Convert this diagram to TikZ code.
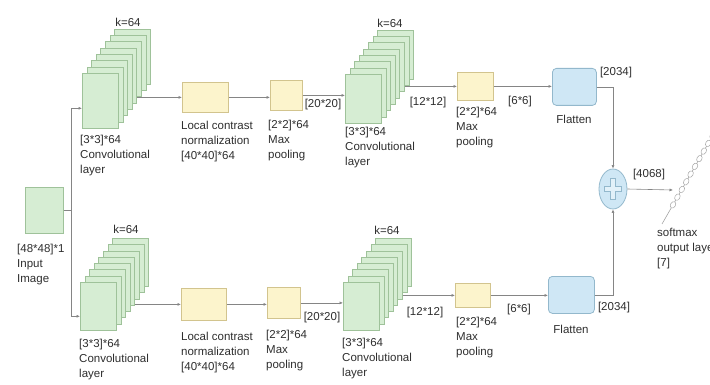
\documentclass[tikz,border=0pt]{standalone}
\usepackage{fontspec}
\setmainfont{Liberation Sans}
\usetikzlibrary{arrows.meta,shapes.geometric,calc}
\definecolor{gfill}{HTML}{D6EDD3}
\definecolor{gdraw}{HTML}{9FC29A}
\definecolor{yfill}{HTML}{FCF4CC}
\definecolor{ydraw}{HTML}{D2C48E}
\definecolor{bfill}{HTML}{CFE7F5}
\definecolor{bdraw}{HTML}{93B8CC}
\definecolor{lncol}{HTML}{858585}
\definecolor{txt}{HTML}{2E2E2E}
\newcommand\mystack[4]{%
  \foreach \i in {7,6,...,0}{%
    \node[layer, minimum height=#4pt] (#1l\i) at ({#2+4.6*\i},{#3-6.3*\i}) {};
  }%
}
\begin{document}
\begin{tikzpicture}[x=1pt,y=-1pt,
  layer/.style={draw=gdraw, fill=gfill, minimum width=36pt, anchor=north west, inner sep=0pt, line width=0.6pt},
  inbox/.style={draw=gdraw, fill=gfill, anchor=north west, inner sep=0pt, line width=0.6pt},
  ybox/.style={draw=ydraw, fill=yfill, anchor=north west, inner sep=0pt, line width=0.8pt},
  fbox/.style={draw=bdraw, fill=bfill, anchor=north west, inner sep=0pt, line width=0.8pt, rounded corners=4pt},
  lbl/.style={font=\fontsize{11.5}{15}\selectfont, text=txt, align=left, anchor=north west, inner sep=0pt},
  slbl/.style={font=\fontsize{11.5}{15}\selectfont, text=txt, anchor=center, inner sep=0pt},
  conn/.style={draw=lncol, line width=0.6pt, -{Latex[length=3.5pt,width=3pt]}},
  plain/.style={draw=lncol, line width=0.6pt}
]
\useasboundingbox (0,0) rectangle (710,385);

% input
\node[inbox, minimum width=38pt, minimum height=46pt] (in) at (25,187) {};
\node[lbl, text width=60pt] (inl) at (17,244) {[48*48]*1\\Input\\Image};

% ---------- top branch ----------
\mystack{a}{82}{73}{55}
\node[ybox, minimum width=46pt, minimum height=30pt] (lcn1) at (182,82) {};
\node[ybox, minimum width=32pt, minimum height=30pt] (mp1) at (270,80) {};
\mystack{b}{345}{74}{49}
\node[ybox, minimum width=36pt, minimum height=28pt] (mp2) at (457,72) {};
\node[fbox, minimum width=44pt, minimum height=37pt] (fl1) at (552,68) {};

\node[slbl] (ka) at (128,22) {k=64};
\node[lbl] (al) at (80,135) {[3*3]*64\\Convolutional\\layer};
\node[lbl] (lcn1l) at (181,121) {Local contrast\\normalization\\{}[40*40]*64};
\node[lbl] (mp1l) at (268,120) {[2*2]*64\\Max\\pooling};
\node[slbl] (s20a) at (323,105) {[20*20]};
\node[slbl] (kb) at (390,23) {k=64};
\node[lbl] (bl) at (345,127) {[3*3]*64\\Convolutional\\layer};
\node[slbl] (s12a) at (428,103) {[12*12]};
\node[lbl] (mp2l) at (456,107) {[2*2]*64\\Max\\pooling};
\node[slbl] (s6a) at (520,102) {[6*6]};
\node[slbl] (fl1l) at (574,119) {Flatten};
\node[slbl] (s2034a) at (616,73) {[2034]};

% ---------- bottom branch ----------
\mystack{c}{80}{282}{48}
\node[ybox, minimum width=45pt, minimum height=32pt] (lcn2) at (181,288) {};
\node[ybox, minimum width=33pt, minimum height=31pt] (mp3) at (267,287) {};
\mystack{d}{343}{282}{48}
\node[ybox, minimum width=35pt, minimum height=24pt] (mp4) at (455,283) {};
\node[fbox, minimum width=46pt, minimum height=37pt] (fl2) at (548,276) {};

\node[slbl] (kc) at (126,229) {k=64};
\node[lbl] (cl) at (79,339) {[3*3]*64\\Convolutional\\layer};
\node[lbl] (lcn2l) at (181,332) {Local contrast\\normalization\\{}[40*40]*64};
\node[lbl] (mp3l) at (266,330) {[2*2]*64\\Max\\pooling};
\node[slbl] (s20b) at (322,318) {[20*20]};
\node[slbl] (kd) at (387,230) {k=64};
\node[lbl] (dl) at (342,338) {[3*3]*64\\Convolutional\\layer};
\node[slbl] (s12b) at (425,313) {[12*12]};
\node[lbl] (mp4l) at (456,317) {[2*2]*64\\Max\\pooling};
\node[slbl] (s6b) at (519,310) {[6*6]};
\node[slbl] (fl2l) at (571,329) {Flatten};
\node[slbl] (s2034b) at (614,308) {[2034]};

% ---------- merge ----------
\node[ellipse, draw=bdraw, fill=bfill, minimum width=28pt, minimum height=40pt, inner sep=0pt, line width=0.8pt] (sum) at (613,189) {};
\draw[bdraw, line width=6pt] ($(sum.center)+(-9,0)$) -- ($(sum.center)+(9,0)$);
\draw[bdraw, line width=6pt] ($(sum.center)+(0,-11)$) -- ($(sum.center)+(0,11)$);
\draw[bfill!60!white, line width=3.8pt] ($(sum.center)+(-8,0)$) -- ($(sum.center)+(8,0)$);
\draw[bfill!60!white, line width=3.8pt] ($(sum.center)+(0,-10)$) -- ($(sum.center)+(0,10)$);
\node[slbl] (s4068) at (649,175) {[4068]};

% softmax output layer
\coordinate (smA) at (662,224);
\coordinate (smB) at (717,128);
\coordinate (smE) at (673,190);
\draw[gray!70, line width=0.6pt] (smA) -- (smB);
\foreach \t in {0.2,0.28,...,1.0}{
  \node[ellipse, draw=gray!70, fill=white, line width=0.5pt, minimum width=7pt, minimum height=5pt, inner sep=0pt, rotate=60] at ($(smA)!\t!(smB)$) {};
}
\node[lbl] (sml) at (657,228) {softmax\\output layer\\{}[7]};

% ---------- connectors ----------
\coordinate (split) at (71,210);
\draw[plain] (in.east |- split) -- (split);
\draw[conn] (split) |- ([yshift=-7.5pt]al0.west);
\draw[conn] (split) |- ([yshift=-10pt]cl0.west);

\draw[conn] (al4.east |- lcn1.west) -- (lcn1.west);
\draw[conn] (lcn1.east) -- (lcn1.east -| mp1.west);
\draw[conn] (mp1.east) -- (mp1.east -| bl0.west);
\draw[conn] (bl5.east |- mp2.west) -- (mp2.west);
\draw[conn] (mp2.east) -- (mp2.east -| fl1.west);
\draw[conn] (fl1.east) -| (sum.north);

\draw[conn] (cl4.east |- lcn2.west) -- (lcn2.west);
\draw[conn] (lcn2.east) -- (lcn2.east -| mp3.west);
\draw[conn] (mp3.east) -- (mp3.east -| dl0.west);
\draw[conn] (dl5.east |- mp4.west) -- (mp4.west);
\draw[conn] (mp4.east) -- (mp4.east -| fl2.west);
\draw[conn] (fl2.east) -| (sum.south);

\draw[conn] (sum.east) -- (smE);
\end{tikzpicture}
\end{document}
